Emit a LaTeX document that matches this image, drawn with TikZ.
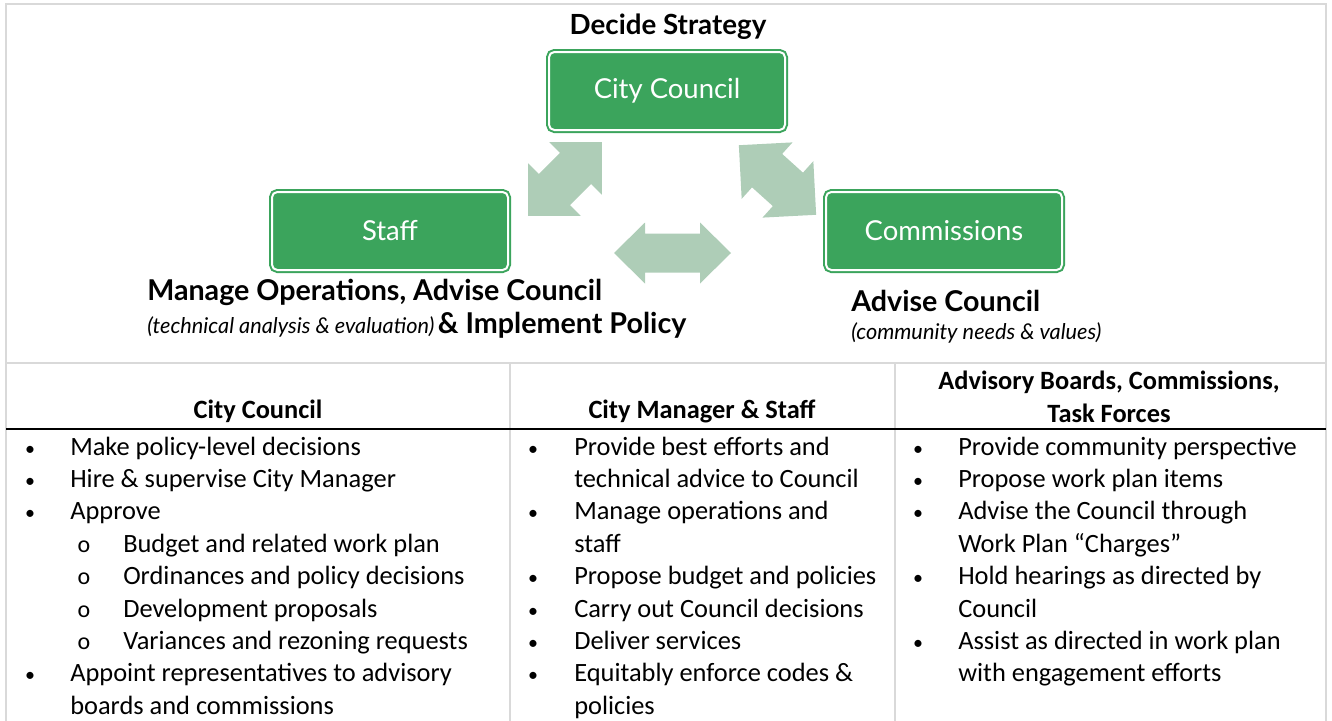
\documentclass[tikz,border=0pt]{standalone}
\usepackage{fontspec}
\setmainfont{Carlito}
\newfontfamily\gillfont{Lato}
\usetikzlibrary{positioning}

\definecolor{boxgreen}{RGB}{59,164,92}
\definecolor{arrowgreen}{RGB}{174,205,183}
\definecolor{rulegray}{RGB}{217,217,217}

\newcommand\cellsize{\fontsize{19.8}{23}\selectfont}

\tikzset{
  rolebox/.style={draw=boxgreen, double=white, double distance=1.5pt, line width=1.5pt,
    fill=boxgreen, rounded corners=4pt, minimum width=177pt, minimum height=58.5pt,
    text=white, font=\gillfont\fontsize{20.6}{23}\selectfont},
  duty/.style={inner sep=0pt, font=\gillfont\bfseries\fontsize{21.5}{24}\selectfont},
  note/.style={inner sep=0pt, font=\gillfont\itshape\fontsize{16.3}{18}\selectfont},
  cellhead/.style={inner sep=0pt, align=center, font=\bfseries\fontsize{19.8}{23}\selectfont},
  celltext/.style={anchor=west, inner sep=0pt, text height=13pt, text depth=4pt, font=\cellsize},
  dot/.style={inner sep=0pt, text height=13pt, text depth=4pt, font=\fontsize{15}{18}\selectfont}
}

\begin{document}
\begin{tikzpicture}[x=0.75pt, y=-0.75pt]
\useasboundingbox (0,0) rectangle (1332,721);
% frame and table rules
\draw[rulegray, line width=1.5pt] (6,721) -- (6,4) -- (1326,4) -- (1326,721);
\draw[rulegray, line width=1pt] (6,363) -- (1326,363);
\draw[rulegray, line width=1pt] (510,363) -- (510,721);
\draw[rulegray, line width=1pt] (895,363) -- (895,721);
\draw[black, line width=0.8pt] (6,429) -- (1326,429);

% double arrows between the three roles
\fill[arrowgreen, shift={(565,179)}, rotate=45]
  (-52,0) -- (-15,37) -- (-15,22) -- (15,22) -- (15,37) -- (52,0)
  -- (15,-37) -- (15,-22) -- (-15,-22) -- (-15,-37) -- cycle;
\fill[arrowgreen, shift={(777.5,180)}, rotate=-42]
  (-52,0) -- (-14,38) -- (-14,22.5) -- (14,22.5) -- (14,38) -- (52,0)
  -- (14,-38) -- (14,-22.5) -- (-14,-22.5) -- (-14,-38) -- cycle;
\fill[arrowgreen, shift={(672.5,253)}]
  (-58.5,0) -- (-27.5,30.5) -- (-27.5,19.5) -- (27.5,19.5) -- (27.5,30.5) -- (58.5,0)
  -- (27.5,-30.5) -- (27.5,-19.5) -- (-27.5,-19.5) -- (-27.5,-30.5) -- cycle;

% the three roles
\node[rolebox] (council) at (667,91) {City Council};
\node[rolebox] (staff) at (390,231) {Staff};
\node[rolebox] (commissions) at (944,231) {Commissions};

% what each role does
\node[duty, font=\gillfont\bfseries\fontsize{20.8}{24}\selectfont] (strategy) at (668,27) {Decide Strategy};
\node[duty, anchor=west] (manage) at (147,292) {Manage Operations, Advise Council};
\node[anchor=west, inner sep=0pt] (implement) at (147,325)
  {\gillfont{\itshape\fontsize{16.3}{18}\selectfont(technical analysis \& evaluation)}
   \bfseries\fontsize{21.5}{24}\selectfont\& Implement Policy};
\node[duty, anchor=west] (advise) at (851,301) {Advise Council};
\node[note, anchor=west] (values) at (851,333) {(community needs \& values)};

% table headings
\node[cellhead] (head-cc) at (258,411) {City Council};
\node[cellhead] (head-sm) at (702,411) {City Manager \& Staff};
\node[cellhead] (head-ab) at (1109,397) {Advisory Boards, Commissions,\\[2pt]Task Forces};

% column 1: council
\foreach \r in {0,1,2,7}
  \node[dot] (cc-dot-\r) at (30,{449+32.4*\r}) {•};
\foreach \r in {3,...,6}
  \node[dot, font=\fontsize{18}{20}\selectfont] (cc-sub-\r) at (84,{449+32.4*\r}) {o};
\foreach \r/\t in {0/Make policy-level decisions, 1/Hire \& supervise City Manager, 2/Approve,
    7/Appoint representatives to advisory, 8/boards and commissions}
  \node[celltext] (cc-\r) at (70,{449+32.4*\r}) {\t};
\foreach \r/\t in {3/Budget and related work plan, 4/Ordinances and policy decisions,
    5/Development proposals, 6/Variances and rezoning requests}
  \node[celltext] (cc-\r) at (123,{449+32.4*\r}) {\t};

% column 2: manager and staff
\foreach \r in {0,2,4,5,6,7}
  \node[dot] (sm-dot-\r) at (533,{449+32.4*\r}) {•};
\foreach \r/\t in {0/Provide best efforts and, 1/technical advice to Council,
    2/Manage operations and, 3/staff, 4/Propose budget and policies,
    5/Carry out Council decisions, 6/Deliver services,
    7/Equitably enforce codes \&, 8/policies}
  \node[celltext] (sm-\r) at (574,{449+32.4*\r}) {\t};

% column 3: boards and commissions
\foreach \r in {0,1,2,4,6}
  \node[dot] (ab-dot-\r) at (918,{449+32.4*\r}) {•};
\foreach \r/\t in {0/Provide community perspective, 1/Propose work plan items,
    2/Advise the Council through, 3/Work Plan “Charges”,
    4/Hold hearings as directed by, 5/Council,
    6/Assist as directed in work plan, 7/with engagement efforts}
  \node[celltext] (ab-\r) at (958,{449+32.4*\r}) {\t};
\end{tikzpicture}
\end{document}
